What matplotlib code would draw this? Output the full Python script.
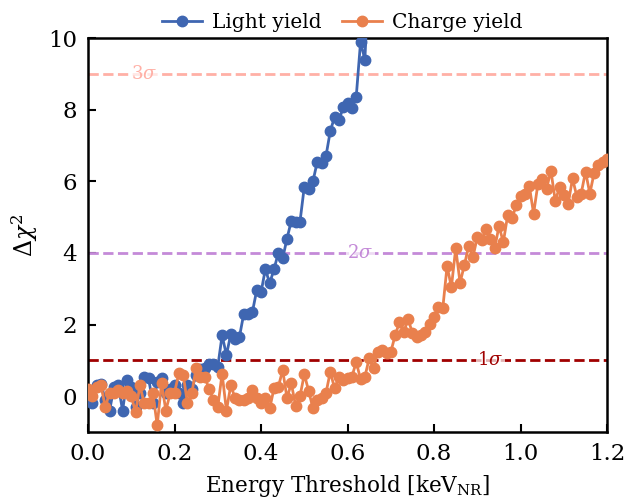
import numpy as np
import matplotlib
matplotlib.use('Agg')
import matplotlib.pyplot as plt

plt.rcParams['font.family'] = 'DejaVu Serif'
plt.rcParams['mathtext.fontset'] = 'dejavuserif'

# energy threshold grid [keV_NR]
light_x = np.round(np.arange(0, 0.655, 0.01), 2)
charge_x = np.round(np.arange(0, 1.205, 0.01), 2)

light_yield = [
    0.1, -0.2, 0.3, 0.35, -0.1, -0.4, 0.25, 0.3, -0.4, 0.45,
    0.25, -0.3, 0.1, 0.55, 0.5, -0.2, 0.4, 0.5, 0.1, 0.2,
    0.3, 0.1, -0.2, 0.3, 0.2, 0.6, 0.75, 0.8, 0.9, 0.9,
    0.82, 1.7, 1.15, 1.73, 1.6, 1.65, 2.3, 2.3, 2.35, 2.96,
    2.9, 3.55, 3.15, 3.55, 4.0, 3.85, 4.4, 4.9, 4.87, 4.87,
    5.85, 5.8, 6.0, 6.55, 6.5, 6.7, 7.4, 7.8, 7.7, 8.07,
    8.18, 8.04, 8.36, 9.89, 9.4, 12.0,
]

charge_yield = [
    0.2, 0.0, 0.25, 0.3, -0.3, 0.1, 0.08, 0.17, 0.08, 0.15,
    0.0, -0.44, 0.3, -0.2, -0.2, 0.08, -0.81, 0.36, -0.4, 0.08,
    0.1, 0.64, 0.6, -0.2, 0.08, 0.8, 0.55, 0.53, 0.2, -0.1,
    -0.3, 0.63, -0.4, 0.3, -0.05, -0.1, -0.1, -0.05, 0.17, -0.05,
    -0.2, -0.05, -0.34, 0.22, 0.26, 0.73, -0.05, 0.36, -0.28, 0.0,
    0.61, 0.15, -0.34, -0.11, -0.05, 0.08, 0.68, 0.22, 0.53, 0.45,
    0.5, 0.54, 0.96, 0.47, 0.54, 1.06, 0.78, 1.24, 1.28, 1.2,
    1.24, 1.7, 2.07, 1.8, 2.15, 1.76, 1.66, 1.7, 1.8, 2.03,
    2.2, 2.5, 2.45, 3.63, 3.05, 4.13, 3.17, 3.66, 4.2, 3.9,
    4.45, 4.36, 4.66, 4.38, 4.13, 4.75, 4.3, 5.05, 4.97, 5.33,
    5.58, 5.66, 5.87, 5.1, 5.93, 6.07, 5.8, 6.3, 5.46, 5.83,
    5.63, 5.38, 6.08, 5.57, 5.66, 6.27, 5.66, 6.24, 6.45, 6.54,
    6.62,
]

# significance levels (delta chi2), their labels, colours and label positions
sigma_levels = [1, 4, 9]
sigma_labels = [r'$1\sigma$', r'$2\sigma$', r'$3\sigma$']
sigma_colors = ['#a00000', '#c48ad8', '#ffb0a6']
sigma_label_x = [0.93, 0.63, 0.13]

fig = plt.figure(figsize=(6.24, 4.98), dpi=100)
ax = fig.add_axes([0.141, 0.1325, 0.832, 0.791])

ax.plot(light_x, light_yield, '-o', color='#3f66b1', lw=2, ms=7.5, label='Light yield', zorder=3)
ax.plot(charge_x, charge_yield, '-o', color='#e9804d', lw=2, ms=7.5, label='Charge yield', zorder=3)

for lvl, lab, col, lx in zip(sigma_levels, sigma_labels, sigma_colors, sigma_label_x):
    ax.axhline(lvl, color=col, ls='--', lw=2, zorder=2)
    ax.text(lx, lvl, lab, color=col, fontsize=13, ha='center', va='center', zorder=2.5,
            bbox=dict(facecolor='white', edgecolor='none', alpha=0.7, pad=1))

ax.set_xlim(0, 1.2)
ax.set_ylim(-1, 10)
ax.set_xticks([0.0, 0.2, 0.4, 0.6, 0.8, 1.0, 1.2])
ax.set_yticks([0, 2, 4, 6, 8, 10])
ax.tick_params(direction='in', length=6, width=1.5, labelsize=16.5, pad=8)
for sp in ax.spines.values():
    sp.set_linewidth(1.8)

ax.set_xlabel(r'Energy Threshold [keV$_{\mathrm{NR}}$]', fontsize=15.5, labelpad=6)
ax.set_ylabel(r'$\Delta\chi^2$', fontsize=17, labelpad=6)

ax.legend(loc='lower center', bbox_to_anchor=(0.49, 0.97), ncol=2, frameon=False,
          fontsize=14.5, handlelength=2, columnspacing=1.0, handletextpad=0.5,
          markerscale=1.0)

plt.savefig('out.png', dpi=100)
plt.close()
